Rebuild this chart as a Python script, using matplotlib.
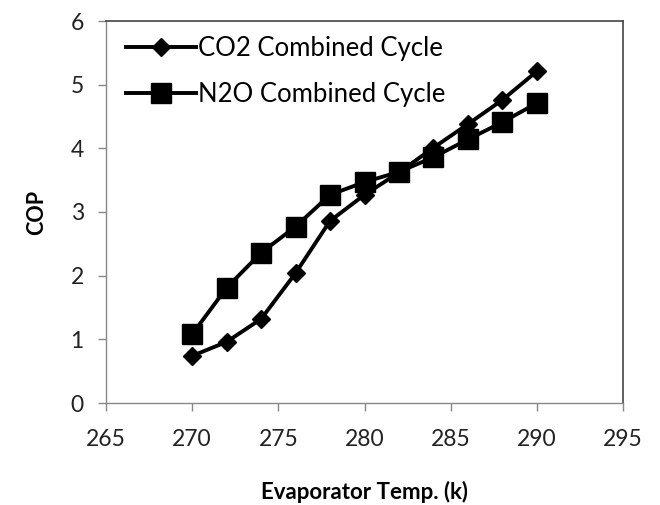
import matplotlib
matplotlib.use("Agg")
import matplotlib.pyplot as plt

temps = [270, 272, 274, 276, 278, 280, 282, 284, 286, 288, 290]
co2_cop = [0.74, 0.96, 1.32, 2.04, 2.86, 3.27, 3.62, 4.01, 4.38, 4.76, 5.21]
n2o_cop = [1.08, 1.81, 2.36, 2.77, 3.27, 3.47, 3.63, 3.86, 4.14, 4.41, 4.71]
x_ticks = [265, 270, 275, 280, 285, 290, 295]
y_ticks = [0, 1, 2, 3, 4, 5, 6]

plt.rcParams['font.family'] = ['Lato', 'DejaVu Sans']

fig = plt.figure(figsize=(6.6, 5.05), dpi=100)
ax = fig.add_axes([106/660, 1-403/505, (623-106)/660, (403-21)/505])

ax.plot(temps, co2_cop, color='black', lw=2.8, marker='D', markersize=9.5,
        label='CO2 Combined Cycle', zorder=3)
ax.plot(temps, n2o_cop, color='black', lw=2.8, marker='s', markersize=14.5,
        label='N2O Combined Cycle', zorder=3)

ax.set_xlim(265, 295)
ax.set_ylim(0, 6)
ax.set_xticks(x_ticks)
ax.set_yticks(y_ticks)
ax.tick_params(direction='out', length=6, width=1, color='#888888',
               labelsize=16.5, labelcolor='#222222')
ax.tick_params(axis='x', pad=13)
ax.tick_params(axis='y', pad=10)

for s in ['left', 'bottom']:
    ax.spines[s].set_color('#888888')
    ax.spines[s].set_linewidth(1)
for s in ['top', 'right']:
    ax.spines[s].set_color('#444444')
    ax.spines[s].set_linewidth(1.2)

ax.set_xlabel('Evaporator Temp. (k)', fontsize=16, fontweight='bold', labelpad=22)
ax.set_ylabel('COP', fontsize=15.5, fontweight='bold', labelpad=17)

leg = ax.legend(loc='upper left', bbox_to_anchor=(0.012, 0.997), frameon=False,
                fontsize=18.5, handlelength=2.7, handletextpad=0.1,
                borderaxespad=0.3, borderpad=0.25, labelspacing=0.8)

fig.savefig('out.png', dpi=100)
